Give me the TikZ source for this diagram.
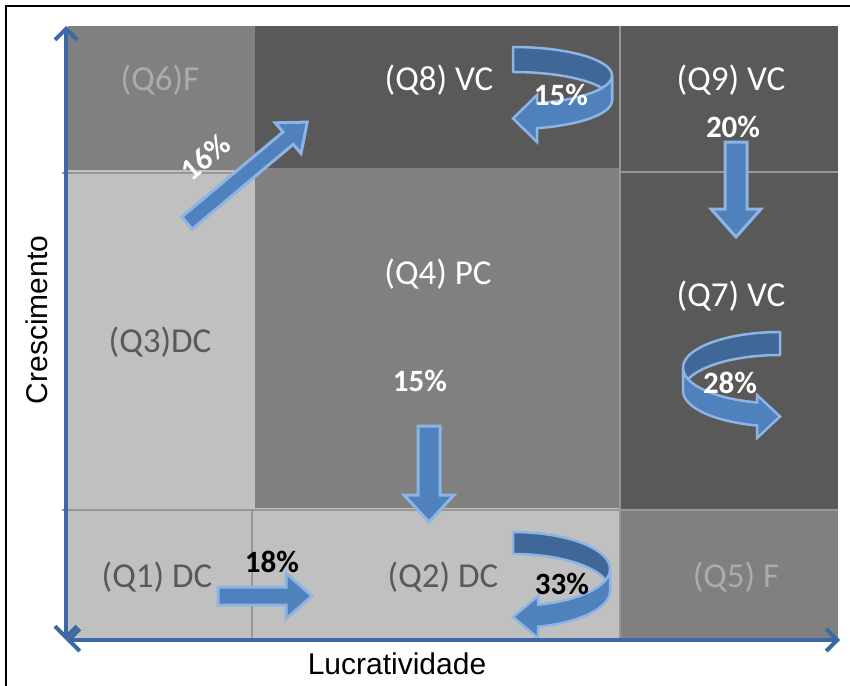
\documentclass[tikz,border=0pt]{standalone}
\usepackage{fontspec}
\setmainfont{Carlito}
\newfontfamily\axisfont{Liberation Sans}
\usetikzlibrary{arrows.meta}

\definecolor{cellLight}{HTML}{C0C0C0}
\definecolor{cellMid}{HTML}{808080}
\definecolor{cellDark}{HTML}{595959}
\definecolor{gridLine}{HTML}{979797}
\definecolor{axisBlue}{HTML}{3C68A4}
\definecolor{arrowFill}{HTML}{4F81BD}
\definecolor{arrowBack}{HTML}{3F6898}
\definecolor{arrowEdge}{HTML}{8DB4E2}
\definecolor{labelGray}{HTML}{ABABAB}
\definecolor{labelDark}{HTML}{595959}

% straight block arrow: start coordinate, angle, length, shaft half width, head half width, head length
\newcommand{\straightblock}[6]{%
  \draw[blockarrow, shift={(#1)}, rotate=#2]
    (0,-#4) -- ({#3-#6},-#4) -- ({#3-#6},-#5) -- (#3,0) -- ({#3-#6},#5)
    -- ({#3-#6},#4) -- (0,#4) -- cycle;}

% curved ribbon arrow: ellipse centre x, direction, x radius, centre y, y radius,
% ribbon thickness, head base offset, head top y, head bottom y
\newcommand{\ribbonarrow}[9]{%
  \pgfmathsetmacro{\thb}{acos(#7/#3)}%
  \filldraw[ribbonback]
    plot[domain=-90:0,samples=40] ({#1+(#2)*#3*cos(\x)},{#4+#5*sin(\x)})
    -- plot[domain=0:-90,samples=40] ({#1+(#2)*#3*cos(\x)},{#4+#6+#5*sin(\x)}) -- cycle;
  \filldraw[ribbonfront]
    plot[domain=0:\thb,samples=40] ({#1+(#2)*#3*cos(\x)},{#4+#5*sin(\x)})
    -- ({#1+(#2)*#7},#8) -- (#1,{(#8+#9)/2}) -- ({#1+(#2)*#7},#9)
    -- plot[domain=\thb:0,samples=40] ({#1+(#2)*#3*cos(\x)},{#4+#6+#5*sin(\x)}) -- cycle;}

\begin{document}
\begin{tikzpicture}[x=1pt,y=-1pt,
  blockarrow/.style={fill=arrowFill, draw=arrowEdge, line width=3pt, line join=miter},
  ribbonfront/.style={fill=arrowFill, draw=arrowEdge, line width=2.5pt, line join=miter},
  ribbonback/.style={fill=arrowBack, draw=arrowEdge, line width=2.5pt, line join=round},
  grid/.style={draw=gridLine, line width=1.5pt},
  axis/.style={draw=axisBlue, line width=4pt,
    {Straight Barb[length=11pt,width=22pt]}-{Straight Barb[length=11pt,width=22pt]}},
  quad/.style={inner sep=0pt, font=\fontsize{35}{40}\selectfont},
  pct/.style={inner sep=0pt, font=\bfseries\fontsize{31}{36}\selectfont},
  axislabel/.style={inner sep=0pt, font=\axisfont\fontsize{30}{34}\selectfont}]

\useasboundingbox (0,0) rectangle (850,685);
\fill[white] (0,0) rectangle (850,685);

% outer frame
\draw[line width=2pt] (6,700) -- (6,6) -- (860,6);

% quadrant cells
\fill[cellMid]   (68,26)   rectangle (255,170);
\fill[cellDark]  (255,26)  rectangle (620,168);
\fill[cellDark]  (620,26)  rectangle (838,172);
\fill[cellLight] (68,170)  rectangle (255,510);
\fill[cellMid]   (255,168) rectangle (620,508);
\fill[cellDark]  (620,172) rectangle (838,510);
\fill[cellLight] (68,510)  rectangle (252,640);
\fill[cellLight] (252,508) rectangle (620,640);
\fill[cellMid]   (620,510) rectangle (838,640);

% grid lines
\draw[grid] (62,173) -- (255,173);
\draw[grid] (620,172) -- (838,172);
\draw[grid] (62,510) -- (838,510);
\draw[grid] (252,510) -- (252,640);
\draw[grid] (620,26) -- (620,640);

% quadrant labels
\node[quad, text=labelGray] (q6) at (160,80)  {(Q6)F};
\node[quad, text=white]     (q8) at (439,80)  {(Q8) VC};
\node[quad, text=white]     (q9) at (731,80)  {(Q9) VC};
\node[quad, text=white]     (q4) at (438,274) {(Q4) PC};
\node[quad, text=white]     (q7) at (731,296) {(Q7) VC};
\node[quad, text=labelDark] (q3) at (160,342) {(Q3)DC};
\node[quad, text=labelDark] (q1) at (157,577) {(Q1) DC};
\node[quad, text=labelDark] (q2) at (443,577) {(Q2) DC};
\node[quad, text=labelGray] (q5) at (736,577) {(Q5) F};

% block arrows between quadrants
\coordinate (a36) at (187,223);
\coordinate (a42) at (429,426);
\coordinate (a97) at (736,142);
\coordinate (a12) at (218,596);
\straightblock{a36}{40}{157}{8}{20}{25}
\straightblock{a42}{-90}{96}{11}{25}{27}
\straightblock{a97}{-90}{95}{11}{25}{28}
\straightblock{a12}{0}{94}{9}{23}{26}

% curved arrows (staying in the same quadrant)
\ribbonarrow{513}{1}{99}{75.5}{28.5}{25}{24}{95}{142}
\ribbonarrow{513}{1}{97}{569}{37}{22}{25}{596}{638}
\ribbonarrow{780}{-1}{97}{367.75}{35.75}{23}{23}{395}{438}

% percentages
\node[pct, text=white, rotate=40] (p16) at (205,157) {16\%};
\node[pct, text=white] (p15a) at (561,95)  {15\%};
\node[pct, text=white] (p20)  at (733,127) {20\%};
\node[pct, text=white] (p15b) at (420,381) {15\%};
\node[pct, text=white] (p28)  at (730,383) {28\%};
\node[pct, text=black] (p18)  at (272,562) {18\%};
\node[pct, text=black] (p33)  at (562,584) {33\%};

% axes
\coordinate (origin) at (66,640);
\coordinate (ytop) at (66,26);
\coordinate (xend) at (840,640);
\draw[axis] (origin) -- (ytop);
\draw[axis] (origin) -- (xend);

% axis titles
\node[axislabel, rotate=90] (ylab) at (37,320) {Crescimento};
\node[axislabel] (xlab) at (397,664) {Lucratividade};
\end{tikzpicture}
\end{document}
